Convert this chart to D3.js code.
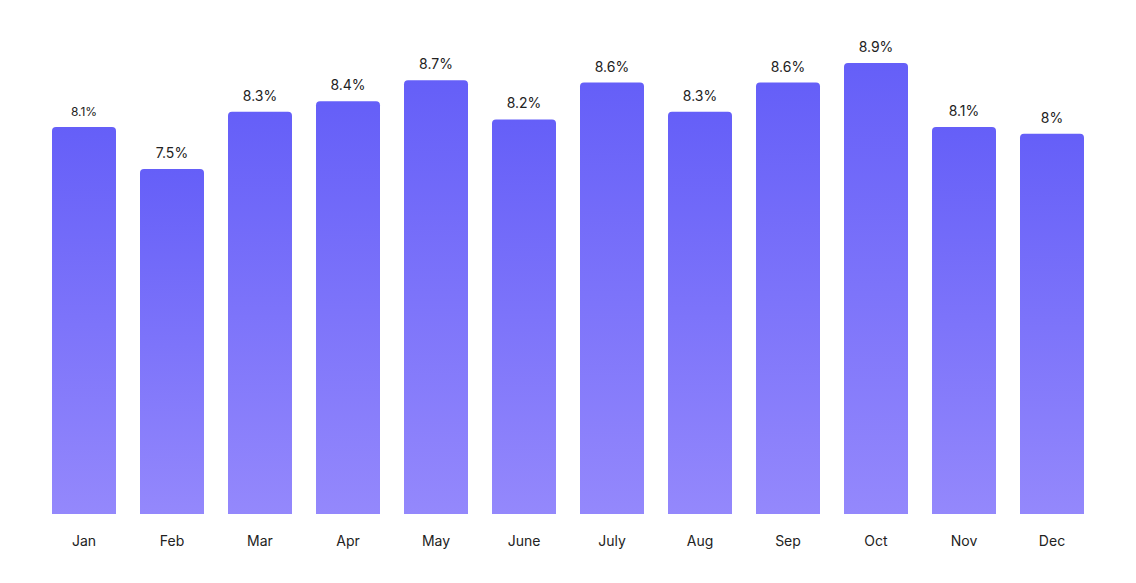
<!DOCTYPE html>
<html>
<head>
<meta charset="utf-8">
<script src="https://cdn.jsdelivr.net/npm/d3@7"></script>
<style>
body { margin: 0; background: #fff; }
text { font-family: "Inter", "Roboto", sans-serif; fill: #222; }
</style>
</head>
<body>
<div id="canvas"></div>
<script>
// DATA -----------------------------------------------------
var months = ["Jan", "Feb", "Mar", "Apr", "May", "June", "July", "Aug", "Sep", "Oct", "Nov", "Dec"];
// values (labels are rounded)
var values = [8.05, 7.49, 8.25, 8.39, 8.67, 8.15, 8.64, 8.25, 8.64, 8.9, 8.05, 7.96];
var labels = ["8.1%", "7.5%", "8.3%", "8.4%", "8.7%", "8.2%", "8.6%", "8.3%", "8.6%", "8.9%", "8.1%", "8%"];

var data_input = months.map(function (m, i) {
  return { term: m, value: values[i], label: labels[i] };
});

// STRUCTURE ------------------------------------------------
var width = 1136, height = 583;
var svg = d3.select("#canvas").append("svg")
  .attr("width", width)
  .attr("height", height);

var defs = svg.append("defs");
var grad = defs.append("linearGradient")
  .attr("id", "bar_grad")
  .attr("x1", 0).attr("y1", 0).attr("x2", 0).attr("y2", 1);
grad.append("stop").attr("offset", "0%").attr("stop-color", "#655ff8");
grad.append("stop").attr("offset", "100%").attr("stop-color", "#9488fc");

// scales
var xScale = d3.scaleBand()
  .domain(months)
  .range([40, 1096])
  .paddingInner(24 / 88)
  .paddingOuter(12 / 88);

var yScale = d3.scaleLinear()
  .domain([2.9, 8.9])
  .range([514, 63]);

// bars: rounded top corners, square bottom
var r = 4;
function barPath(d) {
  var x0 = xScale(d.term), w = xScale.bandwidth();
  var y0 = yScale(d.value), y1 = yScale.range()[0];
  return "M" + x0 + "," + y1 +
    "V" + (y0 + r) +
    "Q" + x0 + "," + y0 + " " + (x0 + r) + "," + y0 +
    "H" + (x0 + w - r) +
    "Q" + (x0 + w) + "," + y0 + " " + (x0 + w) + "," + (y0 + r) +
    "V" + y1 + "Z";
}

var bars = svg.append("g").attr("class", "gfx_bars");
bars.selectAll("path")
  .data(data_input)
  .enter()
  .append("path")
  .attr("d", barPath)
  .style("fill", "url(#bar_grad)");

// value labels
svg.append("g").selectAll("text")
  .data(data_input)
  .enter()
  .append("text")
  .attr("x", function (d) { return xScale(d.term) + xScale.bandwidth() / 2; })
  .attr("y", function (d) { return yScale(d.value) - 11; })
  .attr("text-anchor", "middle")
  .style("font-size", function (d, i) { return i === 0 ? "12px" : "14px"; })
  .text(function (d) { return d.label; });

// month labels
svg.append("g").selectAll("text")
  .data(data_input)
  .enter()
  .append("text")
  .attr("x", function (d) { return xScale(d.term) + xScale.bandwidth() / 2; })
  .attr("y", 546)
  .attr("text-anchor", "middle")
  .style("font-size", "14px")
  .text(function (d) { return d.term; });
</script>
</body>
</html>
